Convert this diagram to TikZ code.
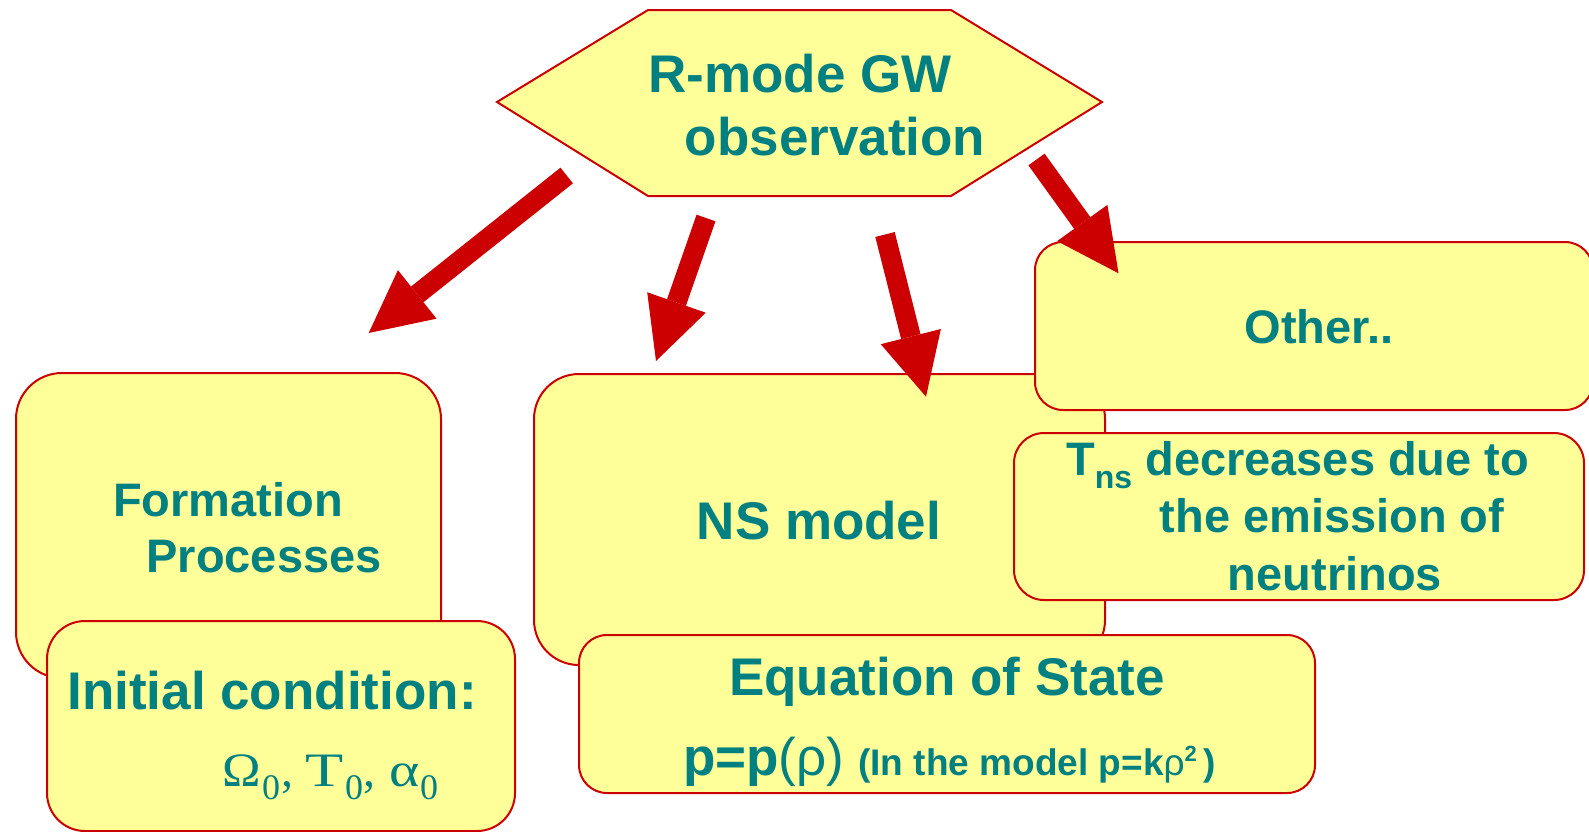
\documentclass[tikz,border=0pt]{standalone}
\usepackage{fontspec}
\setmainfont{Liberation Sans}
\newfontfamily\timesf{Liberation Serif}
\usetikzlibrary{arrows.meta}
\definecolor{tealtxt}{RGB}{0,128,128}
\definecolor{boxred}{RGB}{204,0,0}
\definecolor{boxfill}{RGB}{255,255,153}
\newcommand{\subz}{\raisebox{-13pt}{\fontsize{36}{36}\selectfont 0}}
\newcommand{\gl}[2]{\makebox[#1pt][l]{#2}}
\begin{document}
\begin{tikzpicture}[x=1pt,y=-1pt,
  box/.style={draw=boxred, line width=2pt, fill=boxfill, inner sep=0pt, anchor=north west},
  lbl/.style={text=tealtxt, font=\bfseries\fontsize{53}{64}\selectfont, inner sep=0pt, anchor=base},
  lblm/.style={lbl, font=\bfseries\fontsize{47}{56}\selectfont},
  bigarrow/.style={draw=boxred, line width=20pt, -{Triangle[length=62pt,width=62pt,line width=0pt]}}]
\useasboundingbox (0,0) rectangle (1589,831);
% boxes
\node[box, minimum width=425pt, minimum height=305pt, rounded corners=46pt] (formation) at (15,372) {};
\node[box, minimum width=571pt, minimum height=291pt, rounded corners=45pt] (ns) at (533,373) {};
\node[box, minimum width=558pt, minimum height=168pt, rounded corners=28pt] (other) at (1034,241) {};
\node[box, minimum width=570pt, minimum height=167pt, rounded corners=30pt] (tns) at (1013,432) {};
\node[box, minimum width=468pt, minimum height=210pt, rounded corners=38pt] (initial) at (46,620) {};
\node[box, minimum width=736pt, minimum height=158pt, rounded corners=28pt] (eos) at (578,634) {};
% hexagon
\coordinate (h1) at (497,102);
\coordinate (h2) at (648,10);
\coordinate (h3) at (951,10);
\coordinate (h4) at (1102,102);
\coordinate (h5) at (951,196);
\coordinate (h6) at (648,196);
\draw[draw=boxred, line width=2pt, fill=boxfill, line join=miter] (h1) -- (h2) -- (h3) -- (h4) -- (h5) -- (h6) -- cycle;
% texts
\node[lbl] (t1) at (800,92) {R-mode GW};
\node[lbl] (t2) at (835,155) {observation};
\node[lblm] (t3) at (228,516) {Formation};
\node[lblm] (t4) at (264,572) {Processes};
\node[lbl] (t5) at (819,539) {NS model};
\node[lblm] (t6) at (1319,343) {Other..};
\node[lbl] (t7) at (272,709) {Initial condition:};
\node[lbl, anchor=base west, font=\timesf\fontsize{48}{56}\selectfont] (t8) at (222,786)
  {\gl{40}{\scalebox{1.08}[1]{Ω}}\gl{19}{\subz}\gl{24}{,}\gl{40}{\scalebox{1.3}[1]{T}}\gl{18}{\subz}\gl{26}{,}\gl{31}{\scalebox{1.2}[1]{α}}\subz};
\node[lbl] (t9) at (947,695) {Equation of State};
\node[lbl, anchor=base west] (t10) at (683,775)
  {p=p{\mdseries(ρ)}\hspace{14pt}{\fontsize{37}{40}\selectfont (In the model p=k{\mdseries ρ}\raisebox{14pt}{\fontsize{22}{22}\selectfont 2}\,)}};
\node[lblm, anchor=base west] (t11) at (1066,475)
  {T\raisebox{-13pt}{\fontsize{32}{32}\selectfont ns} decreases due to};
\node[lblm] (t12) at (1332,532) {the emission of};
\node[lblm] (t13) at (1335,590) {neutrinos};
% arrows
\coordinate (a1s) at (566.7,175.5);
\coordinate (a1e) at (368.7,333);
\coordinate (a2s) at (706,218);
\coordinate (a2e) at (656,361);
\coordinate (a3s) at (885,234.5);
\coordinate (a3e) at (926,396.7);
\coordinate (a4s) at (1036.5,159.5);
\coordinate (a4e) at (1118.5,273.3);
\draw[bigarrow] (a1s) -- (a1e);
\draw[bigarrow] (a2s) -- (a2e);
\draw[bigarrow] (a3s) -- (a3e);
\draw[bigarrow] (a4s) -- (a4e);
\end{tikzpicture}
\end{document}
